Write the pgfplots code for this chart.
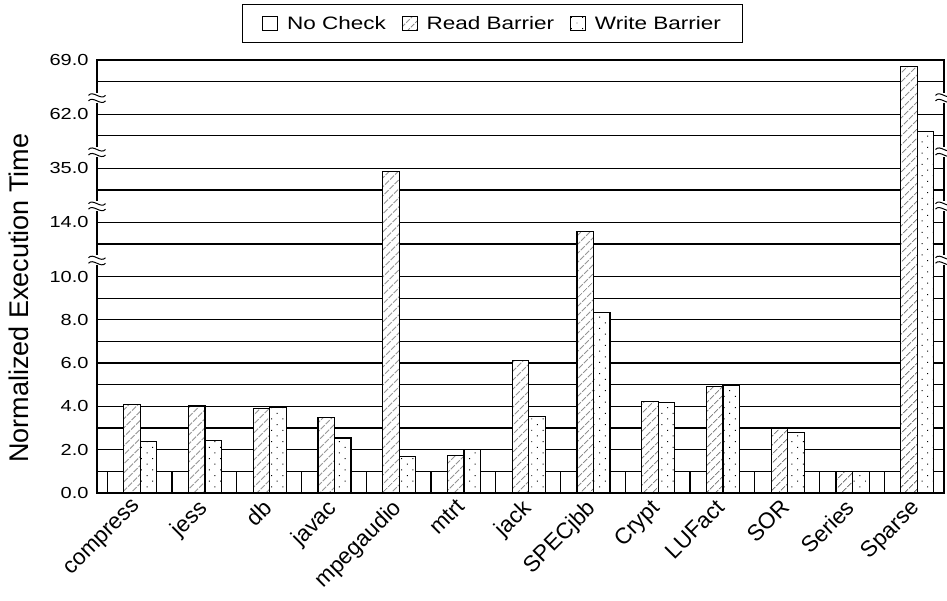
\documentclass[border=0pt]{standalone}
\usepackage{pgfplots}
\pgfplotsset{compat=1.18}
\usepackage{fontspec}
\setmainfont{Liberation Sans}
\newfontfamily\stretchfont{Liberation Sans}[FakeStretch=1.25]
\usetikzlibrary{patterns.meta}
\begin{document}
\begin{tikzpicture}
\begin{axis}[
  name=ax,
  scale only axis, width=847pt, height=433pt,
  ybar=0pt, bar width=0.255,
  xmin=-0.54, xmax=12.54,
  ymin=0, ymax=69,
  clip=false,
  y coord trafo/.code={\pgfmathparse{(#1<10) ? (#1) : ((#1<13) ? (10+(#1-10)*0.5) : ((#1<14) ? (11.5+#1-13) : ((#1<34) ? (12.5+(#1-14)*0.075) : ((#1<35) ? (14+#1-34) : ((#1<61) ? (15+(#1-35)*1.5/26) : ((#1<62) ? (16.5+#1-61) : ((#1<68) ? (17.5+(#1-62)*0.25) : (19+#1-68))))))))}},
  ytick={0,1,2,3,4,5,6,7,8,9,10,13,14,34,35,61,62,68,69},
  yticklabels={0.0,,2.0,,4.0,,6.0,,8.0,,10.0,,14.0,,35.0,,62.0,,69.0},
  xtick={0,...,12},
  xticklabels={compress,jess,db,javac,mpegaudio,mtrt,jack,SPECjbb,Crypt,LUFact,SOR,Series,Sparse},
  major tick length=0pt,
  ymajorgrids,
  major grid style={black, line width=1.25pt},
  axis line style={black, line width=1.25pt},
  yticklabel style={font=\stretchfont\fontsize{16}{18}\selectfont, xshift=-5pt},
  xticklabel style={rotate=45, anchor=north east, font=\fontsize{22.5}{26}\selectfont},
  ylabel={Normalized Execution Time},
  ylabel shift=14pt,
  ylabel style={font=\fontsize{27}{30}\selectfont, at={(ticklabel cs:0.45)}},
  legend columns=3,
  legend style={at={(0.171,1)}, anchor=south west, yshift=17pt, draw=black, line width=0.8pt,
    inner xsep=20pt, inner ysep=10pt,
    font=\stretchfont\fontsize{18}{20}\selectfont,
    /tikz/every odd column/.append style={column sep=7pt},
    /tikz/every even column/.append style={column sep=14pt}},
  legend image code/.code={\draw[#1, line width=0.8pt] (0pt,-7pt) rectangle (15pt,7pt);},
]
\addplot[draw=black, fill=white, line width=1.1pt] coordinates {
(0,1.0) (1,1.0) (2,1.0) (3,1.0) (4,1.0) (5,1.0) (6,1.0) (7,1.0) (8,1.0) (9,1.0) (10,1.0) (11,1.0) (12,1.0)};
\addplot[draw=black, line width=1.1pt, preaction={fill=white}, pattern={Lines[angle=45,distance=6.4pt,line width=0.8pt]}, pattern color=black!80] coordinates {
(0,4.10) (1,4.02) (2,3.90) (3,3.48) (4,34.84) (5,1.74) (6,6.14) (7,13.57) (8,4.22) (9,4.91) (10,2.99) (11,0.99) (12,68.7)};
\addplot[draw=black, line width=1.1pt, preaction={fill=white}, pattern={Dots[angle=45,distance=8pt,radius=0.7pt]}, pattern color=black] coordinates {
(0,2.36) (1,2.43) (2,3.96) (3,2.54) (4,1.68) (5,2.03) (6,3.52) (7,8.35) (8,4.16) (9,4.99) (10,2.80) (11,0.98) (12,61.19)};
\legend{No Check, Read Barrier, Write Barrier}
\end{axis}
\foreach \r in {0.5375,0.6625,0.7875,0.9125}{
  \foreach \c in {ax.south west, ax.south east}{
    \begin{scope}[shift={(\c)}, yshift=\r*433pt]
      \fill[white] (-2.5pt,-5pt) rectangle (2.5pt,5pt);
      \draw[line width=1pt] (-8.5pt,2.5pt) .. controls (-4pt,8pt) and (4pt,-3pt) .. (8.5pt,2.5pt);
      \draw[line width=1pt] (-8.5pt,-3pt) .. controls (-4pt,2.5pt) and (4pt,-8.5pt) .. (8.5pt,-3pt);
    \end{scope}
  }
}
\pgfresetboundingbox
\path ([shift={(-97pt,-107pt)}]ax.south west) rectangle ([shift={(3pt,60pt)}]ax.north east);
\end{tikzpicture}
\end{document}
